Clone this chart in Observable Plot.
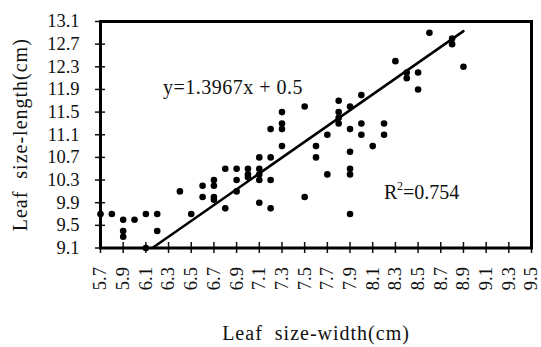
<!DOCTYPE html>
<html>
<head>
<meta charset="utf-8">
<script src="https://cdn.jsdelivr.net/npm/d3@7"></script>
<script src="https://cdn.jsdelivr.net/npm/@observablehq/plot@0.6"></script>
<style>
  html, body { margin: 0; padding: 0; background: #fff; }
  svg { display: block; }
</style>
</head>
<body>
<div id="chart"></div>
<script>
const widthCm = [5.7,5.8,5.9,5.9,5.9,6.0,6.1,6.1,6.2,6.2,6.4,6.5,6.6,6.6,6.7,6.7,6.7,6.7,6.8,6.8,6.9,6.9,6.9,7.0,7.0,7.0,7.1,7.1,7.1,7.1,7.1,7.2,7.2,7.2,7.2,7.3,7.3,7.3,7.3,7.5,7.5,7.6,7.6,7.7,7.7,7.8,7.8,7.8,7.8,7.9,7.9,7.9,7.9,7.9,7.9,8.0,8.0,8.0,8.1,8.2,8.2,8.3,8.4,8.4,8.5,8.5,8.6,8.8,8.8,8.9];
const lengthCm = [9.7,9.7,9.6,9.4,9.3,9.6,9.7,9.1,9.7,9.4,10.1,9.7,10.2,10.0,10.3,10.2,10.0,9.95,10.5,9.8,10.5,10.3,10.1,10.5,10.4,10.35,10.7,10.5,10.4,10.3,9.9,11.2,10.7,10.3,9.8,11.5,11.3,11.2,10.9,11.6,10.0,10.9,10.7,11.1,10.4,11.7,11.5,11.4,11.3,11.6,11.2,10.8,10.5,10.4,9.7,11.8,11.3,11.1,10.9,11.3,11.1,12.4,12.2,12.1,12.2,11.9,12.9,12.8,12.7,12.3];
const fitX = [6.157, 8.9];
const fitY = [9.1, 12.93];
const xTicks = [5.7,5.9,6.1,6.3,6.5,6.7,6.9,7.1,7.3,7.5,7.7,7.9,8.1,8.3,8.5,8.7,8.9,9.1,9.3,9.5];
const yTicks = [9.1,9.5,9.9,10.3,10.7,11.1,11.5,11.9,12.3,12.7,13.1];
const equationText = "y=1.3967x + 0.5";
const r2Base = "R";
const r2Sup = "2";
const r2Rest = "=0.754";
const xTitle = "Leaf  size-width(cm)";
const yTitle = "Leaf  size-length(cm)";

const points = widthCm.map((x, i) => ({x, y: lengthCm[i]}));
const fit = fitX.map((x, i) => ({x, y: fitY[i]}));
const fmt = d3.format(".1f");
const font = "'Liberation Serif', 'DejaVu Serif', serif";

const chart = Plot.plot({
  width: 541,
  height: 347,
  marginLeft: 100,
  marginRight: 10,
  marginTop: 21,
  marginBottom: 99.5,
  style: {fontFamily: font, fontSize: "18px", color: "#111", background: "#fff"},
  x: {domain: [5.7, 9.5]},
  y: {domain: [9.1, 13.1]},
  marks: [
    Plot.axisX({ticks: xTicks, tickSize: 11, dy: -5.5, tickFormat: () => "", label: null, strokeWidth: 1.5}),
    Plot.axisX({ticks: xTicks, tickSize: 0, tickPadding: 19, tickRotate: -90, tickFormat: fmt, label: null, fontSize: 18.5, fontVariant: "normal"}),
    Plot.axisY({ticks: yTicks, tickSize: 10, dx: 5, tickFormat: () => "", label: null, strokeWidth: 1.5}),
    Plot.axisY({ticks: yTicks, tickSize: 0, tickPadding: 21, tickFormat: fmt, label: null, fontSize: 18.5, fontVariant: "normal"}),
    Plot.frame({stroke: "#000", strokeWidth: 3}),
    Plot.line(fit, {x: "x", y: "y", stroke: "#000", strokeWidth: 2.5}),
    Plot.dot(points, {x: "x", y: "y", r: 3.3, fill: "#000", stroke: "none"}),
    Plot.text([equationText], {x: 6.25, y: 11.93, text: d => d, textAnchor: "start", fontSize: 20, fill: "#111"}),
    Plot.text([r2Base], {x: 8.2, y: 10.07, text: d => d, textAnchor: "start", fontSize: 20, fill: "#111"}),
    Plot.text([r2Sup], {x: 8.2, y: 10.07, dx: 13, dy: -7, text: d => d, textAnchor: "start", fontSize: 12, fill: "#111"}),
    Plot.text([r2Rest], {x: 8.2, y: 10.07, dx: 19, text: d => d, textAnchor: "start", fontSize: 20, fill: "#111"}),
    Plot.text([xTitle], {frameAnchor: "bottom", dy: 92, textAnchor: "middle", text: d => d, fontSize: 20, fill: "#111"}),
    Plot.text([yTitle], {frameAnchor: "left", dx: -80, textAnchor: "middle", rotate: -90, text: d => d, fontSize: 20, fill: "#111"})
  ]
});
const svg = d3.select(chart);
svg.selectAll("text, g").style("font-family", font).style("font-variant", "normal");
svg.selectAll("text").filter(function() { return [xTitle, yTitle].includes(this.textContent); }).style("letter-spacing", "1px");
svg.selectAll("text").filter(function() { return this.textContent === equationText; }).style("letter-spacing", "0.5px");
document.getElementById("chart").appendChild(chart);
</script>
</body>
</html>
